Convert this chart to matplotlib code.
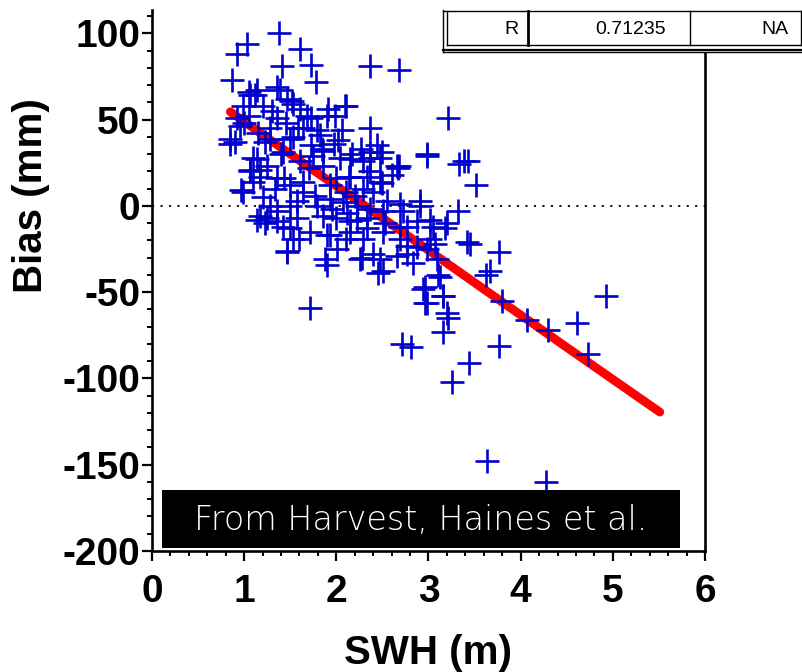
import matplotlib
matplotlib.use("Agg")
import matplotlib.pyplot as plt
from matplotlib.patches import Rectangle
from matplotlib.lines import Line2D
from matplotlib.ticker import MultipleLocator

plt.rcParams["axes.unicode_minus"] = False

# ---- data ----
swh = [1.38, 1.03, 0.92, 1.61, 1.41, 1.72, 1.78, 0.87, 2.36, 2.68, 3.21, 2.98, 3.39, 0.85, 0.97,
       1.14, 1.46, 1.90, 1.71, 2.36, 2.11, 3.43, 3.52, 2.67, 3.32, 3.45, 3.76, 3.67, 3.62, 3.80,
       4.07, 4.30, 4.61, 4.93, 4.73, 3.76, 3.44, 3.25, 2.71, 2.81, 3.16, 3.21, 2.96, 2.96, 3.16,
       3.10, 3.64, 4.28, 3.18, 3.07, 2.45,
       1.12, 1.05, 1.39, 1.52, 0.99, 1.20, 1.73, 1.91, 1.61, 1.36, 0.92, 0.85, 1.28, 1.53, 1.79,
       1.15, 0.90, 1.23, 0.99, 1.17, 1.23, 1.47, 1.88, 1.60, 1.36, 1.06, 1.17, 1.10, 1.43, 1.64,
       1.90, 1.50, 1.28,
       2.98, 2.68, 3.33, 2.17, 2.36, 2.50, 2.36, 2.14, 2.50, 2.91, 2.69, 2.36, 3.02, 3.20, 2.53,
       2.77, 2.22, 2.33, 2.69, 3.02, 2.87, 2.10, 2.28, 2.40, 2.77, 2.01,
       1.06, 1.14, 1.36, 1.46, 1.53, 1.68, 1.90, 1.99, 2.09, 2.06, 1.82, 1.64, 1.50, 1.28, 1.14,
       1.25, 1.42, 1.61, 1.75, 1.86, 2.00, 2.15, 2.29, 2.47, 2.66, 2.15, 2.33, 2.47, 2.29, 2.11,
       1.93, 1.93, 2.07, 2.22, 1.79, 1.64, 1.50, 1.36, 1.17, 1.06, 1.50, 1.36, 1.25, 1.42, 1.57,
       1.86, 2.00, 2.15, 2.33, 2.51, 2.72, 2.91, 1.53, 1.71, 1.93, 2.15, 2.29, 2.51, 2.69, 2.87,
       3.05, 2.77, 2.98, 2.47, 2.26, 2.66, 2.51, 2.83, 3.09, 3.12, 2.94, 3.16, 2.98, 3.20, 3.42,
       2.27, 2.36, 2.44, 0.95, 1.00, 1.05, 1.30, 1.45, 1.58, 1.72, 1.85, 1.97, 2.04,
       1.20, 1.33, 1.57, 1.70, 1.84, 2.02, 2.20, 1.95, 2.12, 2.40, 2.60, 1.10, 1.40, 1.77, 2.55]
bias = [100, 94, 88, 91, 81, 81.5, 72, 73, 81, 79, 51, 29, 26, 36, 9,
        -8, -27, -34, -59, 45, 58, 26, 12, 22, -3, -22, -27, -38, -40, -55,
        -66, -72, -68, -52, -86, -81, -91, -102, -80, -82, -73, -65, -56, -47, -52,
        -40, -148, -160, -13, -22, -39,
        64, 66, 67, 61, 58, 58, 51, 56, 56, 51, 51, 39, 45, 40, 44,
        42, 37, 37, 8, -6, -10, -26, -31, -19, -9, 20, 21, 14, 16, 14,
        -17, -13, 0,
        30, 23, 24, 30, 28, 31, 20, 17, 13, 3, 1, -2, -8, -10, -10,
        -12, -8, -13, -19, -19, -24, -19, -30, -28, -28, -25,
        64, 67, 69, 62, 59, 52, 52, 52, 58, 44, 41, 45, 39, 39, 27,
        23, 31, 26, 29, 23, 16, 27, 26, 28, 23, 17, 17, 14, 10, 8,
        12, 4, 2, 0, 0, 8, 12, 16, 17, 21, 0, -3, -7, -12, -7,
        -6, -7, -9, -7, -3, -3, 0, -19, -15, -17, -15, -19, -15, -12, -9,
        -12, -23, -25, -31, -31, -29, -38, -33, -31, -41, -48, -52, -56, -62, -21,
        33, 31, 35, 46, 48, 52, 55, 48, 45, 35, 32, 36, 28,
        5, 10, 3, 22, 33, 38, 6, -2, -4, 8, 18, 28, 30, 6, 3]

fit_swh = [0.85, 1.5, 2.5, 3.5, 4.5, 5.51]
fit_bias = [54.5, 30.0, -7.0, -44.5, -82.0, -119.5]

xticks = [0, 1, 2, 3, 4, 5, 6]
yticks = [-200, -150, -100, -50, 0, 50, 100]
table_cells = ["R", "0.71235", "NA"]
note = "From Harvest, Haines et al."

W, H = 803, 672
fig = plt.figure(figsize=(W / 100, H / 100), dpi=100)
fig.patch.set_facecolor("white")

def fx(px):
    return px / W

def fy(py):
    return 1 - py / H

ax = fig.add_axes([fx(152), fy(551), fx(705) - fx(152), fy(10) - fy(551)])
ax.set_xlim(0, 6)
ax.set_ylim(-200, 113.5)

ax.axhline(0, color="black", linestyle=(0, (1.2, 3.5)), linewidth=1.3, zorder=1)
ax.plot(fit_swh, fit_bias, color="#ff0000", linewidth=6.3, solid_capstyle="round", zorder=2)
ax.plot(swh, bias, linestyle="none", marker="+", markersize=17, markeredgewidth=1.9,
        color="#0000cd", zorder=3)

ax.spines["top"].set_visible(False)
for s in ("left", "bottom", "right"):
    ax.spines[s].set_linewidth(1.9)
ax.spines["right"].set_bounds(-200, 89.5)

ax.set_xticks(xticks)
ax.set_yticks(yticks)
ax.xaxis.set_minor_locator(MultipleLocator(0.2))
ax.yaxis.set_minor_locator(MultipleLocator(10))
ax.tick_params(which="major", direction="out", length=7.5, width=1.6,
               labelsize=28, pad=3)
ax.tick_params(which="minor", direction="out", length=3.8, width=1.4)
ax.tick_params(axis="x", which="major", pad=9)
ax.tick_params(axis="y", which="major", pad=1)
for lab in ax.get_xticklabels() + ax.get_yticklabels():
    lab.set_fontfamily("Liberation Sans")
    lab.set_fontweight("bold")

fig.text(fx(428), fy(653), "SWH (m)", fontsize=29, fontfamily="Liberation Sans",
         fontweight="bold", ha="center", va="center")
fig.text(fx(31), fy(196), "Bias (mm)", fontsize=29, fontfamily="Liberation Sans",
         fontweight="bold", ha="center", va="center", rotation=90)

# note box
fig.patches.append(Rectangle((fx(162), fy(548)), fx(680) - fx(162), fy(490) - fy(548),
                             transform=fig.transFigure, facecolor="black",
                             edgecolor="none", zorder=5))
fig.text(fx(421), fy(520), note, fontsize=24, fontfamily="DejaVu Sans",
         fontweight="light", color="white", ha="center", va="center", zorder=6)

# table box
def hline(x0, x1, y, lw):
    fig.lines.append(Line2D([fx(x0), fx(x1)], [fy(y), fy(y)], transform=fig.transFigure,
                            color="black", linewidth=lw))

def vline(x, y0, y1, lw):
    fig.lines.append(Line2D([fx(x), fx(x)], [fy(y0), fy(y1)], transform=fig.transFigure,
                            color="black", linewidth=lw))

fig.patches.append(Rectangle((fx(443), fy(52)), fx(803) - fx(443), fy(10) - fy(52),
                             transform=fig.transFigure, facecolor="white",
                             edgecolor="none", zorder=0))
hline(443, 803, 10.5, 1.0)
vline(443, 10, 52, 1.0)
vline(447, 11, 45, 1.0)
hline(443, 803, 49.5, 1.6)
hline(443, 803, 52, 1.0)
hline(447, 803, 45, 1.0)
vline(528, 11, 45, 2.0)
vline(690, 11, 45, 1.0)
vline(801, 11, 45, 1.0)

cell_right = [518, 666, 789]
for txt, xr in zip(table_cells, cell_right):
    fig.text(fx(xr), fy(29), txt, fontsize=14, fontfamily="Liberation Sans",
             ha="right", va="center")

fig.savefig("out.png", dpi=100)
